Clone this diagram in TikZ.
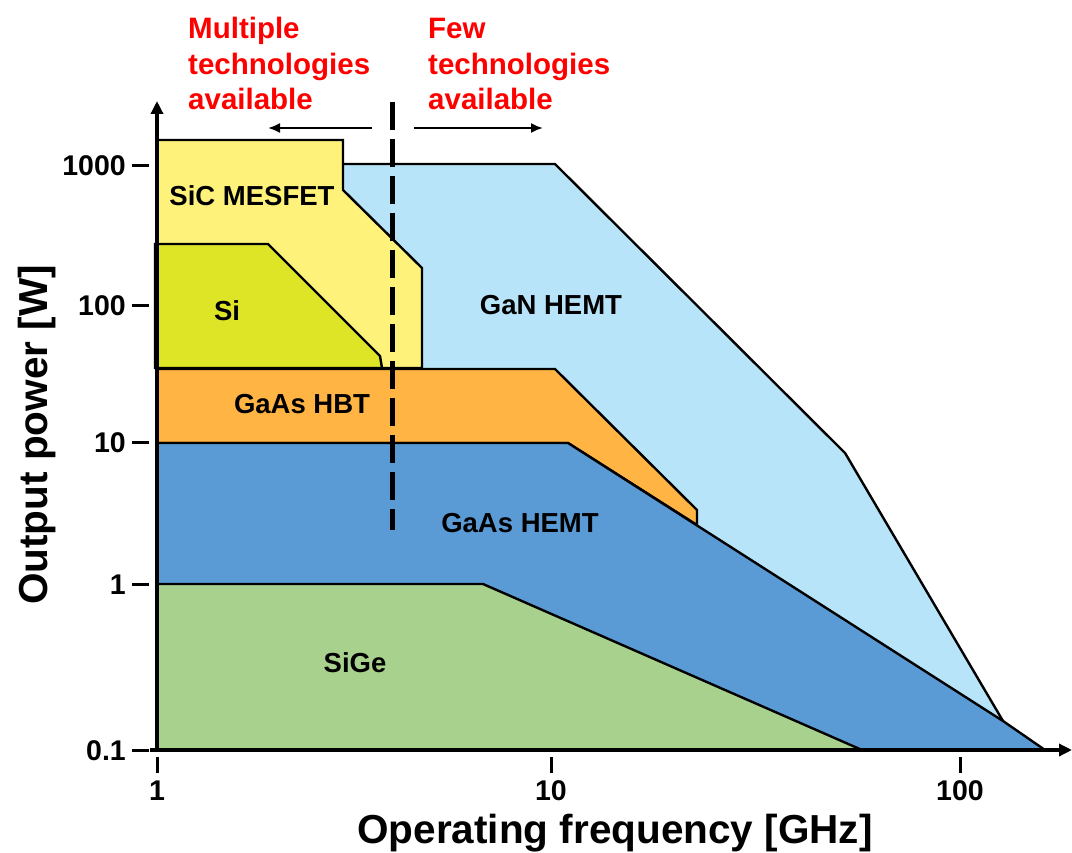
\documentclass[tikz,border=0pt]{standalone}
\usepackage{fontspec}
\setmainfont{Liberation Sans}
\usetikzlibrary{arrows.meta}

\definecolor{ganblue}{HTML}{B7E4F8}
\definecolor{sicyellow}{HTML}{FFF27A}
\definecolor{sigreen}{HTML}{DEE526}
\definecolor{hbtorange}{HTML}{FFB443}
\definecolor{hemtblue}{HTML}{5B9BD5}
\definecolor{sigegreen}{HTML}{A9D18E}
\definecolor{notered}{HTML}{FF0000}

\begin{document}
\begin{tikzpicture}[x=1pt,y=-1pt,
  region/.style={draw=black, line width=2.4pt, line join=miter},
  techlabel/.style={font=\bfseries\fontsize{27.5}{32}\selectfont, inner sep=0pt},
  ticklabel/.style={font=\bfseries\fontsize{28.5}{32}\selectfont, inner sep=0pt},
  axislabel/.style={font=\bfseries\fontsize{40.5}{46}\selectfont, inner sep=0pt},
  notelabel/.style={font=\bfseries\fontsize{29.5}{35.5}\selectfont, text=notered,
                    align=left, inner sep=0pt, anchor=base west},
  axisline/.style={line width=3.5pt, -{Triangle[length=13pt,width=12pt]}},
  tickline/.style={line width=3pt},
  divider/.style={line width=5pt, dash pattern=on 28pt off 9pt},
  hint/.style={line width=2pt, -{Latex[length=12pt,width=10pt]}}]

\useasboundingbox (0,0) rectangle (1072,853);

% technology regions, back to front
\fill[ganblue] (343,164) -- (555,164) -- (845,453) -- (848,458) -- (1003,721)
  -- (343,721) -- cycle;
\draw[region] (343,164) -- (555,164) -- (845,453) -- (848,458) -- (1003,721);

\filldraw[region, fill=sicyellow] (157,140) -- (343,140) -- (343,190) -- (422,268)
  -- (422,368) -- (157,368) -- cycle;

\filldraw[region, fill=sigreen] (155,244) -- (268,244) -- (380,356) -- (382,368)
  -- (155,368) -- cycle;

\filldraw[region, fill=hbtorange] (157,369) -- (555,369) -- (697,510) -- (697,525)
  -- (568,443) -- (157,443) -- cycle;

\filldraw[region, fill=hemtblue] (157,443) -- (568,443) -- (1003,721) -- (1045,750)
  -- (157,750) -- cycle;

\filldraw[region, fill=sigegreen] (157,584) -- (483,584) -- (862,750)
  -- (157,750) -- cycle;

% axes
\coordinate (origin) at (157,752);
\coordinate (ytop) at (157,101);
\coordinate (xleft) at (150,750);
\coordinate (xright) at (1072,750);
\draw[axisline] (origin) -- (ytop);
\draw[axisline] (xleft) -- (xright);

% y ticks
\foreach \yy/\lab in {166/1000, 306/100, 442/10, 584/1, 750/0.1} {
  \draw[tickline] (132,\yy) -- (149,\yy);
  \node[ticklabel, anchor=base east] (ytick\lab) at (126,\yy+10) {\lab};
}
% x ticks
\foreach \xx/\lab in {157/1, 551/10, 960/100} {
  \draw[tickline] (\xx,757) -- (\xx,773);
  \node[ticklabel, anchor=base] (xtick\lab) at (\xx,800) {\lab};
}

% axis titles
\node[axislabel, anchor=base] (xtitle) at (615,843) {Operating frequency [GHz]};
\node[axislabel, anchor=base, rotate=90] (ytitle) at (47,435) {Output power [W]};

% region names
\node[techlabel] (sic) at (252,196) {SiC MESFET};
\node[techlabel] (si) at (227,311) {Si};
\node[techlabel] (gan) at (551,305) {GaN HEMT};
\node[techlabel] (hbt) at (302,404) {GaAs HBT};
\node[techlabel] (hemt) at (520,523) {GaAs HEMT};
\node[techlabel] (sige) at (355,663) {SiGe};

% boundary between the two frequency domains
\coordinate (divtop) at (392,102);
\coordinate (divbot) at (392,530);
\draw[divider] (divtop) -- (divbot);

\coordinate (leftstart) at (372,128);
\coordinate (leftend) at (268,128);
\coordinate (rightstart) at (414,128);
\coordinate (rightend) at (543,128);
\draw[hint] (leftstart) -- (leftend);
\draw[hint] (rightstart) -- (rightend);

% the anchor sits on the baseline of the last line
\node[notelabel] (many) at (188,110) {Multiple\\technologies\\available};
\node[notelabel] (few) at (428,110) {Few\\technologies\\available};

\end{tikzpicture}
\end{document}
